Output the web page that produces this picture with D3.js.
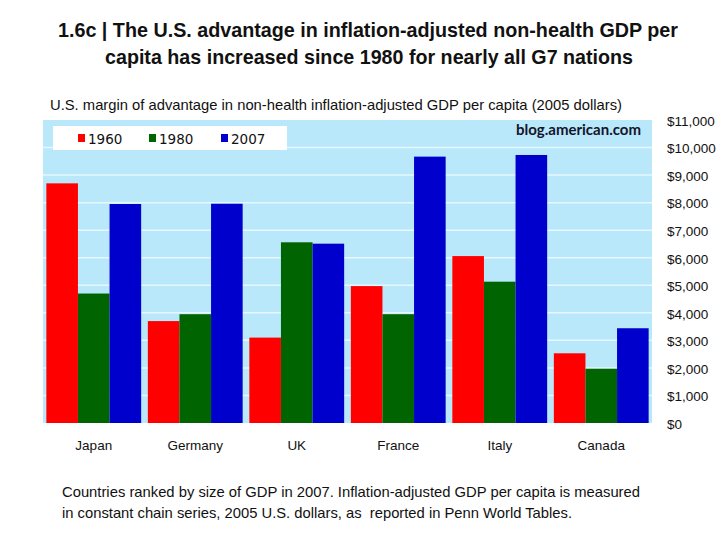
<!DOCTYPE html>
<html>
<head>
<meta charset="utf-8">
<script src="https://cdn.jsdelivr.net/npm/d3@7"></script>
<style>
  html, body { margin: 0; padding: 0; background: #ffffff; }
  svg { display: block; }
</style>
</head>
<body>
<svg id="chart" width="720" height="540"></svg>
<script>
// ---- Data ----
const countries = ["Japan", "Germany", "UK", "France", "Italy", "Canada"];
const seriesNames = ["1960", "1980", "2007"];
const values1960 = [8700, 3700, 3100, 4970, 6060, 2530];
const values1980 = [4700, 3950, 6560, 3950, 5130, 1970];
const values2007 = [7950, 7960, 6510, 9670, 9730, 3440];
const yTicks = [0, 1000, 2000, 3000, 4000, 5000, 6000, 7000, 8000, 9000, 10000, 11000];
const seriesColors = ["#ff0000", "#006400", "#0000cc"];

const svg = d3.select("#chart");
const font = "'Liberation Sans', Arial, sans-serif";

// ---- Layout ----
const plot = { left: 43, right: 652, top: 120, bottom: 423 };

const x0 = d3.scaleBand()
  .domain(countries)
  .range([plot.left, plot.right])
  .paddingInner(0.066)
  .paddingOuter(0.033);

const x1 = d3.scaleBand()
  .domain(seriesNames)
  .range([0, x0.bandwidth()])
  .padding(0);

const y = d3.scaleLinear()
  .domain([0, 11000])
  .range([plot.bottom, plot.top]);

// ---- Title ----
svg.append("text")
  .attr("x", 368).attr("y", 37)
  .attr("text-anchor", "middle")
  .attr("font-family", font).attr("font-weight", "bold")
  .attr("font-size", 21).attr("fill", "#111")
  .attr("textLength", 620).attr("lengthAdjust", "spacingAndGlyphs")
  .text("1.6c | The U.S. advantage in inflation-adjusted non-health GDP per");
svg.append("text")
  .attr("x", 369).attr("y", 64)
  .attr("text-anchor", "middle")
  .attr("font-family", font).attr("font-weight", "bold")
  .attr("font-size", 21).attr("fill", "#111")
  .attr("textLength", 528).attr("lengthAdjust", "spacingAndGlyphs")
  .text("capita has increased since 1980 for nearly all G7 nations");

// ---- Subtitle ----
svg.append("text")
  .attr("x", 50).attr("y", 110)
  .attr("font-family", font).attr("font-size", 14.5).attr("fill", "#111")
  .attr("textLength", 572).attr("lengthAdjust", "spacingAndGlyphs")
  .text("U.S. margin of advantage in non-health inflation-adjusted GDP per capita (2005 dollars)");

// ---- Plot background ----
svg.append("rect")
  .attr("x", plot.left).attr("y", plot.top)
  .attr("width", plot.right - plot.left).attr("height", plot.bottom - plot.top)
  .attr("fill", "#b9e8fb");

// ---- Gridlines ----
svg.append("g").selectAll("line")
  .data(yTicks.filter(t => t > 0 && t < 11000))
  .join("line")
  .attr("x1", plot.left).attr("x2", plot.right)
  .attr("y1", d => y(d)).attr("y2", d => y(d))
  .attr("stroke", "#e6f7fe").attr("stroke-width", 1.5);

// ---- Bars ----
const seriesData = [values1960, values1980, values2007];
const groups = svg.append("g").selectAll("g")
  .data(countries)
  .join("g")
  .attr("transform", d => `translate(${x0(d)},0)`);

groups.selectAll("rect")
  .data((c, i) => seriesNames.map((s, j) => ({ s, j, v: seriesData[j][i] })))
  .join("rect")
  .attr("x", d => x1(d.s))
  .attr("y", d => y(d.v))
  .attr("width", x1.bandwidth())
  .attr("height", d => y(0) - y(d.v))
  .attr("fill", d => seriesColors[d.j]);

// ---- X axis labels ----
const xAxis = d3.axisBottom(x0).tickSize(0).tickPadding(0);
const gx = svg.append("g").attr("transform", `translate(0,${plot.bottom})`).call(xAxis);
gx.select(".domain").remove();
gx.selectAll("text")
  .attr("font-family", font).attr("font-size", 13.5).attr("fill", "#111")
  .attr("dy", 0).attr("y", 27);

// ---- Y axis labels (right) ----
const yAxis = d3.axisRight(y).tickValues(yTicks).tickSize(0).tickPadding(0)
  .tickFormat(d => "$" + d3.format(",")(d));
const gy = svg.append("g").attr("transform", `translate(667,1)`).call(yAxis);
gy.select(".domain").remove();
gy.selectAll("text")
  .attr("font-family", font).attr("font-size", 13.5).attr("fill", "#111")
  .attr("x", 0);

// ---- Legend ----
const legend = svg.append("g");
legend.append("rect")
  .attr("x", 53).attr("y", 126).attr("width", 234).attr("height", 24)
  .attr("fill", "#ffffff");
const legendX = [78, 149, 221];
seriesNames.forEach((s, i) => {
  legend.append("rect")
    .attr("x", legendX[i]).attr("y", 134).attr("width", 7).attr("height", 8)
    .attr("fill", seriesColors[i]);
  legend.append("text")
    .attr("x", legendX[i] + 10).attr("y", 143.5)
    .attr("font-family", "'DejaVu Sans', Verdana, sans-serif").attr("font-size", 13.5)
    .attr("fill", "#111")
    .text(s);
});

// ---- Watermark ----
svg.append("text")
  .attr("x", 641).attr("y", 135)
  .attr("text-anchor", "end")
  .attr("font-family", "Lato, 'Open Sans', sans-serif").attr("font-weight", "bold")
  .attr("font-size", 15).attr("fill", "#14142a")
  .text("blog.american.com");

// ---- Footnote ----
svg.append("text")
  .attr("x", 62).attr("y", 497)
  .attr("font-family", font).attr("font-size", 14.5).attr("fill", "#111")
  .attr("textLength", 578).attr("lengthAdjust", "spacingAndGlyphs")
  .text("Countries ranked by size of GDP in 2007. Inflation-adjusted GDP per capita is measured");
svg.append("text")
  .attr("x", 62).attr("y", 518)
  .attr("font-family", font).attr("font-size", 14.5).attr("fill", "#111")
  .attr("textLength", 510).attr("lengthAdjust", "spacingAndGlyphs")
  .attr("xml:space", "preserve")
  .text("in constant chain series, 2005 U.S. dollars, as  reported in Penn World Tables.");
</script>
</body>
</html>
